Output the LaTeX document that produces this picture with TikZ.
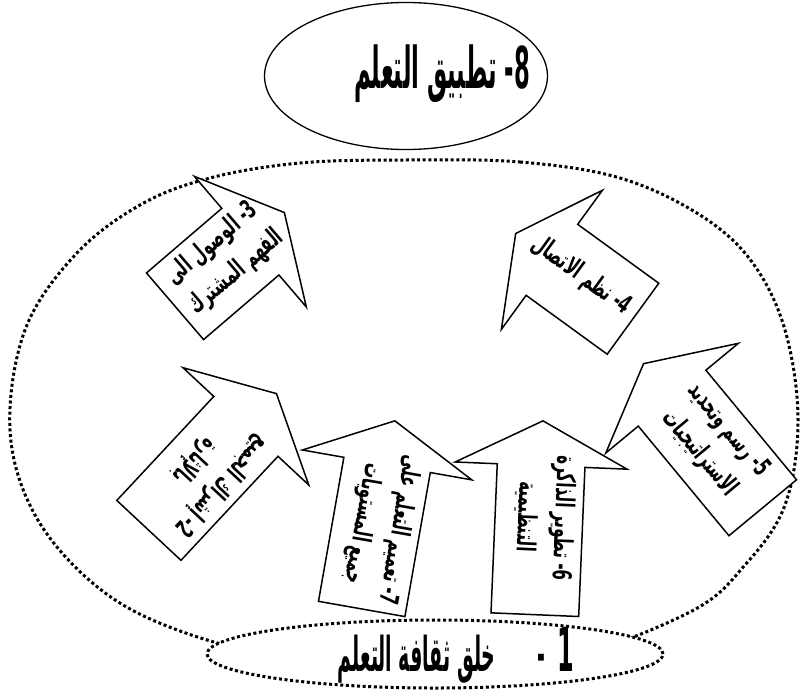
\documentclass[tikz,border=0pt]{standalone}
\usepackage{graphicx}
\usepackage{fontspec}
\newfontfamily\arabicfont[Script=Arabic]{DejaVu Sans}
\TeXXeTstate=1
\usetikzlibrary{shapes.arrows,shapes.geometric}
\newcommand{\ar}[1]{{\arabicfont\bfseries\beginR #1\endR}}
\newcommand{\tallar}[1]{\scalebox{0.63}[1.6]{\ar{#1}}}
\newcommand{\arw}[1]{\scalebox{0.76}[1.3]{\ar{#1}}}
% text of a step, pushed a little towards the tip
\newcommand{\tiptext}[2][0pt]{\smash{\makebox[0pt]{\begin{tabular}{@{}c@{}}#2\end{tabular}\hspace{#1}}}}

\begin{document}
\begin{tikzpicture}[x=1pt, y=-1pt,
    fatarrow/.style={single arrow, draw, fill=white, line width=1.5pt,
        single arrow head extend=42pt, single arrow tip angle=125,
        minimum width=172pt, inner xsep=0pt, inner ysep=43pt,
        anchor=tip, font=\fontsize{20}{37}\selectfont},
    dotline/.style={line width=3pt, dash pattern=on 3pt off 2.6pt}
]
\useasboundingbox (0,0) rectangle (802,697);

% outer dotted loop
\draw[dotline] plot[smooth cycle, tension=0.6] coordinates {
    (405,160) (520,162) (620,178) (700,215) (752,262) (785,330)
    (798,420) (785,505) (745,565) (690,612) (560,660) (420,672)
    (290,660) (172,628) (95,585) (35,515) (10,430) (25,330)
    (75,255) (140,205) (210,178) (300,163)};

% top and bottom steps
\node[ellipse, draw, fill=white, line width=1.3pt, minimum width=283pt, minimum height=147pt] (apply) at (406,76) {};
\node[font=\fontsize{36}{40}\selectfont] (applytext) at (442,74) {\tallar{8\kern0pt- تطبيق التعلم}};

\node[ellipse, draw, dotline, fill=white, minimum width=456pt, minimum height=68pt] (culture) at (435,654) {};
\node[font=\fontsize{30}{34}\selectfont] (culturetext) at (456,655) {\tallar{{\fontsize{38}{40}\selectfont 1}\hspace{20pt}-\hspace{66pt}خلق ثقافة التعلم}};

% arrows
\node[fatarrow, rotate=40.6, minimum height=144pt] (step3) at (285,212)
    {\tiptext[-16pt]{\arw{3\kern0pt- الوصول الى}\\\arw{الفهم المشترك}}};
\node[fatarrow, shape border rotate=180, rotate=-36, minimum height=145pt] (step4) at (515,233)
    {\tiptext[12pt]{\arw{4\kern0pt- نظم الاتصال}}};
\node[fatarrow, shape border rotate=180, rotate=-133, minimum height=187pt] (step2) at (277,393)
    {\tiptext{\arw{2\kern0pt- إشراك الجميع}\\\arw{بالإثارة}}};
\node[fatarrow, shape border rotate=180, rotate=-100, minimum height=191pt] (step7) at (395,420)
    {\tiptext{\arw{7\kern0pt- تعميم التعلم على}\\\arw{جميع المستويات}}};
\node[fatarrow, shape border rotate=180, rotate=-92.4, minimum height=194pt] (step6) at (543,420)
    {\tiptext[24pt]{\arw{6\kern0pt- تطوير الذاكرة}\\\arw{التنظيمية}}};
\node[fatarrow, shape border rotate=180, rotate=-50.4, minimum height=187pt] (step5) at (643,363)
    {\tiptext{\arw{5\kern0pt- رسم وتحديد}\\\arw{الاستراتيجيات}}};
\end{tikzpicture}
\end{document}
